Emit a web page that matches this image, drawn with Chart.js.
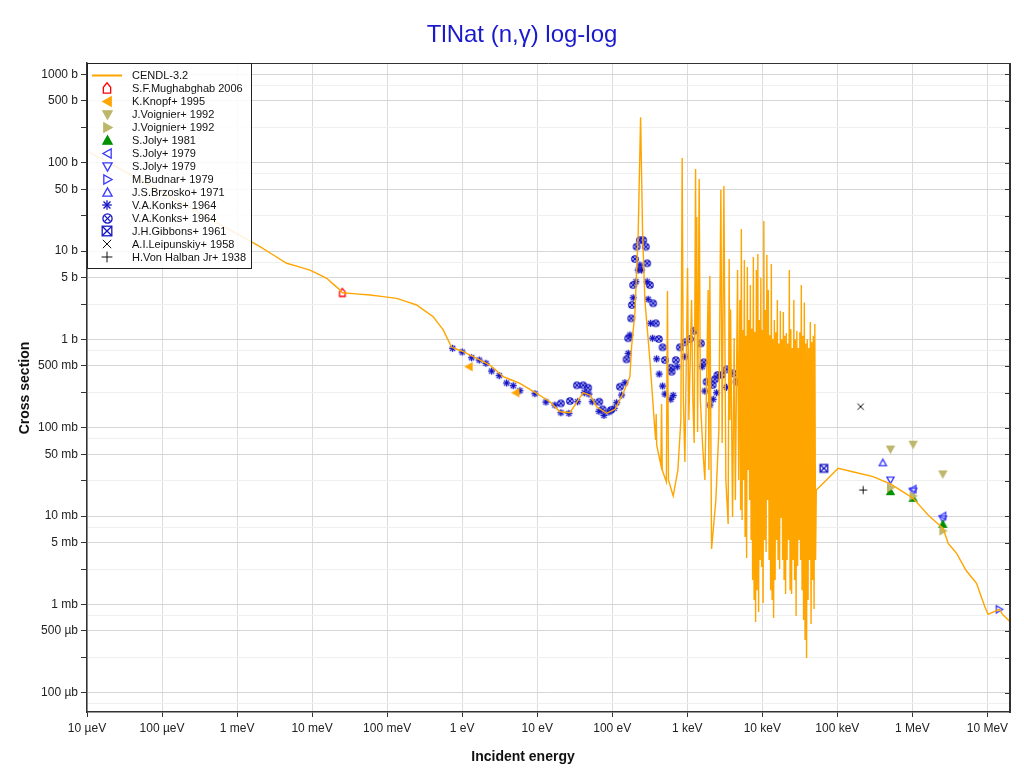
<!DOCTYPE html>
<html><head><meta charset="utf-8">
<script src="https://cdn.jsdelivr.net/npm/chart.js@4.4.1/dist/chart.umd.min.js"></script>
<style>html,body{margin:0;padding:0;background:#fff;}canvas{display:block;}</style>
</head><body>
<canvas id="c" width="1024" height="773"></canvas>
<script>
// ---------- DATA (energy in eV, cross section in barns) ----------
const cendlE = [
1e-5, 3.74e-5, 2.02e-3, 4.58e-3, 9.36e-3, 0.01563, 0.0235, 0.0252, 0.059, 0.1338, 0.247, 0.4115, 0.559, 0.7237, 1.033, 1.404, 2.343, 3.524, 5.883, 9.82,
14.76, 20.07, 27.28, 41.0, 50.4, 61.85, 84.1, 108.5, 139.9, 171.9, 181.1, 200.4, 221.7, 238.7, 253.8, 272.3, 317.4, 370.1, 379.2, 385.1,
391.1, 444.7, 454.4, 464.2, 526.6, 544.6, 561.6, 648.7, 749.5, 821.7, 855.1, 887.2, 929.0, 1009, 1050, 1141, 1187, 1236, 1290, 1314,
1338, 1372, 1441, 1494, 1614, 1716, 1898, 1940, 2000, 2108, 2404, 2636, 2803, 2917, 3073, 3268, 3507, 3615, 3694, 3774,
4013, 4216, 4373, 4679, 4839,
5021, 5138, 5257, 5380, 5505, 5634, 5765, 5899, 6036, 6177, 6321, 6468, 6618, 6772, 6930, 7091, 7256, 7425, 7598, 7775,
7956, 8141, 8330, 8524, 8722, 8925, 9133, 9345, 9563, 9785, 10015, 10248, 10486, 10730, 10980, 11235, 11497, 11764, 12038, 12318,
12604, 12898, 13198, 13505, 13819, 14140, 14469, 14806, 15150, 15503, 15863, 16232, 16610, 16996, 17392, 17796, 18210, 18634, 19067, 19511,
19965, 20429, 20904, 21390, 21888, 22397, 22918, 23451, 23997, 24555, 25126, 25711, 26309, 26921, 27547, 28188, 28844, 29515, 30201, 30904,
31623, 32358, 33111, 33881, 34669, 35476, 36301, 37145, 38009, 38893, 39798, 40724, 41671, 42640, 43632, 44647, 45686, 46748, 47836, 48948,
50087, 51252, 52444,
102470, 299900, 511000, 1.023e6, 1.621e6, 2.568e6, 2.995e6, 3.876e6, 5.155e6, 7.159e6, 9.23e6, 1.022e7, 1.432e7, 1.619e7, 2.0e7];
const cendlXS = [
135.5, 73.8, 11.2, 7.26, 6.09, 4.91, 3.62, 3.37, 3.18, 2.91, 2.45, 1.80, 1.28, 0.813, 0.725, 0.636, 0.5125, 0.378, 0.318, 0.245,
0.197, 0.1517, 0.1478, 0.249, 0.2344, 0.1728, 0.1455, 0.1615, 0.245, 0.378, 0.826, 1.97, 15.86, 326, 15.86, 2.79, 0.583, 0.0941, 0.0725, 0.1429,
0.0637, 0.0378, 0.1853, 0.0332, 0.0243, 3.53, 0.0256, 0.01686, 0.0332, 0.122, 112.9, 0.206, 0.0409, 6.42, 0.122, 2.79, 0.206, 0.0671, 84.8, 1.28,
24.3, 0.0894, 65.3, 0.206, 0.0559, 0.0256, 3.62, 0.0332, 5.21, 0.00424, 0.0152, 0.0941, 49.0, 0.0671, 54.4, 0.0256, 0.00813, 8.12, 0.122, 2.15,
0.00975, 1.036, 0.0152, 6.09, 0.0256,
2.79, 0.0117, 17.7, 0.0090, 1.28, 0.0256, 7.91, 0.00579, 1.1, 0.00335,
6.59, 0.0332, 1.66, 0.0152, 4.12, 0.00535, 1.3, 0.00189, 8.55, 0.00112,
1.2, 0.000632, 6.09, 0.00145, 9.25, 0.00082, 1.66, 0.00318, 4.95, 0.00265,
1.28, 0.00104, 21.8, 0.00535, 2.15, 0.00392, 9.01, 0.0152, 3.62, 0.00318,
1.1, 0.00145, 7.13, 0.00112, 1.0, 0.000701, 1.66, 0.00189, 1.2, 0.00535,
2.79, 0.00318, 0.9, 0.00252, 2.09, 0.0095, 1.0, 0.00318, 2.04, 0.00189,
1.1, 0.00131, 1.18, 0.00318, 0.9, 0.00535, 6.09, 0.00145, 1.3, 0.00131,
0.8, 0.00318, 2.79, 0.00189, 1.0, 0.000739, 1.24, 0.00272, 0.8, 0.00535,
1.2, 0.00318, 4.12, 0.00145, 1.1, 0.000666, 2.58, 0.000395, 0.9, 0.000247,
1.0, 0.00112, 0.8, 0.00318, 1.57, 0.000599, 0.933, 0.00189, 1.1, 0.000886,
1.49, 0.00318, 0.0197,
0.0347, 0.0279, 0.0231, 0.0159, 0.01027, 0.00726, 0.00491, 0.00379, 0.00245, 0.00173, 0.000941, 0.000772, 0.00088, 0.000758, 0.000637];

const mughE = [0.0253], mughXS = [3.4];
const knopfE = [1.24, 5.2], knopfXS = [0.49, 0.249];
const voigDownE = [5.11e5, 1.023e6, 2.545e6], voigDownXS = [0.0574, 0.065, 0.030];
const voigRightE = [5.11e5, 1.023e6, 2.545e6], voigRightXS = [0.021, 0.0169, 0.0068];
const joly81E = [5.11e5, 1.023e6, 2.545e6], joly81XS = [0.0189, 0.0159, 0.00805];
const joly79aE = [1.023e6, 2.545e6], joly79aXS = [0.0202, 0.0100];
const joly79bE = [5.11e5, 1.023e6, 2.545e6], joly79bXS = [0.0256, 0.0192, 0.0093];
const budnarE = [1.43e7], budnarXS = [0.00088];
const brzoskoE = [4.04e5], brzoskoXS = [0.040];
const konksAstE = [0.746, 1.00, 1.336, 1.687, 2.073, 2.469, 3.117, 3.911, 4.788, 5.883, 9.32, 13.06, 17.21, 20.69, 26.45, 34.53, 42.29, 48.86, 54.06, 66.4,
 77.4, 90.2, 106.1, 114.3, 133.2, 147.4, 163.2, 171.9, 190.1, 206.6, 221.7, 233.6, 246.0, 292.2, 301.3, 324.3, 344.7, 389.8, 422.2, 468.6,
 502.9, 604.5, 648.6, 733.4, 928.8, 1579, 1716, 2000, 2213, 2457, 3338, 6166, 7189, 15480];
const konksAstXS = [0.792, 0.719, 0.620, 0.583, 0.536, 0.438, 0.388, 0.321, 0.299, 0.262, 0.2425, 0.1953, 0.1806, 0.1478, 0.1455, 0.197, 0.249, 0.2406, 0.197, 0.1533,
 0.138, 0.1505, 0.1658, 0.1918, 0.2344, 0.323, 0.695, 1.12, 2.96, 4.49, 6.09, 6.94, 6.09, 4.49, 2.84, 1.52, 1.03, 0.602, 0.405, 0.2964,
 0.2406, 0.2097, 0.2326, 0.490, 0.636, 0.490, 0.260, 0.1806, 0.2097, 0.249, 0.2866, 0.1806, 0.122, 0.0676];
const konksCircE = [20.69, 27.28, 33.81, 41.0, 47.8, 67.0, 74.35, 95.9, 126.5, 155.3, 163.2, 179, 183, 190.1, 200.4, 211.1, 233.6, 258.4, 280.7, 292.2,
 317.4, 351.1, 381.5, 418.3, 468.6, 502.9, 604.5, 617.6, 704.7, 796.7, 928.8, 1083, 1236, 1518, 1664, 1808, 2173, 2332, 2533, 2864,
 3339, 4088, 4539, 6166, 7189, 15480];
const konksCircXS = [0.1888, 0.2005, 0.302, 0.302, 0.2836, 0.197, 0.1615, 0.1585, 0.291, 0.594, 1.03, 1.73, 2.45, 4.12, 8.12, 11.2, 13.3, 13.3, 11.2, 7.26,
 4.12, 2.56, 1.52, 1.01, 0.813, 0.583, 0.4775, 0.430, 0.583, 0.813, 0.926, 1.01, 1.253, 0.902, 0.550, 0.3315, 0.304, 0.353, 0.395, 0.395,
 0.458, 0.4127, 0.3315, 0.2344, 0.1658, 0.0877];
const gibbonsE = [6.609e4], gibbonsXS = [0.0347];
const leipE = [2.04e5], leipXS = [0.173];
const halbanE = [2.21e5], halbanXS = [0.0197];

const xTickValues = [1e-5, 1e-4, 1e-3, 1e-2, 1e-1, 1, 10, 100, 1e3, 1e4, 1e5, 1e6, 1e7];
const xTickLabels = ['10 µeV', '100 µeV', '1 meV', '10 meV', '100 meV', '1 eV', '10 eV', '100 eV', '1 keV', '10 keV', '100 keV', '1 MeV', '10 MeV'];
const yTickValues = [7.5e-5, 1e-4, 2.5e-4, 5e-4, 7.5e-4, 1e-3, 2.5e-3, 5e-3, 7.5e-3, 0.01, 0.025, 0.05, 0.075, 0.1, 0.25, 0.5, 0.75,
  1, 2.5, 5, 7.5, 10, 25, 50, 75, 100, 250, 500, 750, 1000];
const yTickLabels = ['', '100 µb', '', '500 µb', '', '1 mb', '', '5 mb', '', '10 mb', '', '50 mb', '', '100 mb', '', '500 mb', '',
  '1 b', '', '5 b', '', '10 b', '', '50 b', '', '100 b', '', '500 b', '', '1000 b'];

// ---------- rendering ----------
const FONT = "'Liberation Sans', Arial, sans-serif";
function mant(v){ return v / Math.pow(10, Math.floor(Math.log10(v) + 1e-9)); }
function near(a,b){ return Math.abs(a-b) < 1e-6; }

function makeMarker(kind, s, stroke, fill, lw){
  const n = Math.ceil(2*s + 2*lw + 3);
  const c = document.createElement('canvas'); c.width = n; c.height = n;
  const g = c.getContext('2d');
  g.translate(n/2, n/2);
  g.lineWidth = lw; g.strokeStyle = stroke; g.fillStyle = fill || 'rgba(0,0,0,0)';
  const poly = (p) => { g.beginPath(); p.forEach(([x,y],k)=> k ? g.lineTo(x*s,y*s) : g.moveTo(x*s,y*s)); g.closePath(); if (fill) g.fill(); g.stroke(); };
  const seg = (a,b,c2,d) => { g.beginPath(); g.moveTo(a*s,b*s); g.lineTo(c2*s,d*s); g.stroke(); };
  switch(kind){
    case 'house': poly([[-0.7,1],[0.7,1],[0.7,-0.15],[0,-1],[-0.7,-0.15]]); break;
    case 'triU': poly([[0,-1],[1,0.8],[-1,0.8]]); break;
    case 'triD': poly([[0,1],[1,-0.8],[-1,-0.8]]); break;
    case 'triL': poly([[-1,0],[0.8,-1],[0.8,1]]); break;
    case 'triR': poly([[1,0],[-0.8,-1],[-0.8,1]]); break;
    case 'star': seg(0,-1,0,1); seg(-1,0,1,0); seg(-0.72,-0.72,0.72,0.72); seg(-0.72,0.72,0.72,-0.72); break;
    case 'circX': g.beginPath(); g.arc(0,0,s,0,Math.PI*2); g.stroke(); seg(-0.62,-0.62,0.62,0.62); seg(-0.62,0.62,0.62,-0.62); break;
    case 'sqX': g.strokeRect(-s,-s,2*s,2*s); seg(-1,-1,1,1); seg(-1,1,1,-1); break;
    case 'x': seg(-1,-1,1,1); seg(-1,1,1,-1); break;
    case 'plus': seg(0,-1,0,1); seg(-1,0,1,0); break;
  }
  return c;
}
const SZ = { house:[4,5.2], triU:[3.6,4.6], triD:[3.6,4.6], triL:[3.6,4.6], triR:[3.6,4.6], star:[3.6,4.8], circX:[3.2,4.6], sqX:[3.8,4.8], x:[3.2,4.2], plus:[4,5.4] };

const seriesDefs = [
  {label:'CENDL-3.2', E:cendlE, S:cendlXS, line:true, color:'#FFA500'},
  {label:'S.F.Mughabghab 2006', E:mughE, S:mughXS, kind:'house', stroke:'#ff0000', fill:'#ffffff'},
  {label:'K.Knopf+ 1995', E:knopfE, S:knopfXS, kind:'triL', stroke:'#FFA500', fill:'#FFA500'},
  {label:'J.Voignier+ 1992', E:voigDownE, S:voigDownXS, kind:'triD', stroke:'#BDB76B', fill:'#BDB76B'},
  {label:'J.Voignier+ 1992', E:voigRightE, S:voigRightXS, kind:'triR', stroke:'#BDB76B', fill:'#BDB76B'},
  {label:'S.Joly+ 1981', E:joly81E, S:joly81XS, kind:'triU', stroke:'#009100', fill:'#009100'},
  {label:'S.Joly+ 1979', E:joly79aE, S:joly79aXS, kind:'triL', stroke:'#3838ff'},
  {label:'S.Joly+ 1979', E:joly79bE, S:joly79bXS, kind:'triD', stroke:'#3838ff'},
  {label:'M.Budnar+ 1979', E:budnarE, S:budnarXS, kind:'triR', stroke:'#3838ff'},
  {label:'J.S.Brzosko+ 1971', E:brzoskoE, S:brzoskoXS, kind:'triU', stroke:'#3838ff'},
  {label:'V.A.Konks+ 1964', E:konksAstE, S:konksAstXS, kind:'star', stroke:'#1616c4'},
  {label:'V.A.Konks+ 1964', E:konksCircE, S:konksCircXS, kind:'circX', stroke:'#1616c4'},
  {label:'J.H.Gibbons+ 1961', E:gibbonsE, S:gibbonsXS, kind:'sqX', stroke:'#1616c4'},
  {label:'A.I.Leipunskiy+ 1958', E:leipE, S:leipXS, kind:'x', stroke:'#111111'},
  {label:'H.Von Halban Jr+ 1938', E:halbanE, S:halbanXS, kind:'plus', stroke:'#111111'},
];
seriesDefs.forEach(d => {
  if (d.line) return;
  const lw = (d.kind==='x'||d.kind==='plus') ? 1 : 1.3;
  d.mk = makeMarker(d.kind, SZ[d.kind][0], d.stroke, d.fill, lw);
  d.mkL = makeMarker(d.kind, SZ[d.kind][1], d.stroke, d.fill, lw);
});

const datasets = seriesDefs.map(d => {
  const data = d.E.map((e,i)=>({x:e, y:d.S[i]}));
  if (d.line) return {label:d.label, data, showLine:true, borderColor:d.color, backgroundColor:d.color, borderWidth:1.4, pointRadius:0, pointHoverRadius:0, tension:0.0001, fill:false, borderJoinStyle:'miter'};
  return {label:d.label, data, showLine:false, pointStyle:d.mk, pointRadius:3, pointHoverRadius:3, borderColor:d.stroke, backgroundColor:d.fill||d.stroke};
});

const deco = {
  id:'deco',
  afterDatasetsDraw(chart){
    const {ctx, chartArea:a} = chart;
    const ys = chart.scales.y;
    ctx.save();
    ctx.strokeStyle = '#333'; ctx.lineWidth = 1;
    ctx.beginPath(); ctx.moveTo(a.left, a.top+0.5); ctx.lineTo(a.right, a.top+0.5); ctx.stroke();
    ctx.lineWidth = 2;
    ctx.beginPath(); ctx.moveTo(a.right, a.top); ctx.lineTo(a.right, a.bottom+1); ctx.stroke();
    ctx.lineWidth = 1;
    yTickValues.forEach(v => {
      if (near(mant(v), 7.5)) return;
      const py = Math.round(ys.getPixelForValue(v)) + 0.5;
      ctx.beginPath(); ctx.moveTo(a.right-5, py); ctx.lineTo(a.right, py); ctx.stroke();
    });
    // legend
    const lx = a.left, ly = a.top, lw = 164, lh = 205;
    ctx.fillStyle = 'rgba(255,255,255,0.86)';
    ctx.fillRect(lx, ly, lw, lh);
    ctx.strokeStyle = '#222'; ctx.lineWidth = 1;
    ctx.strokeRect(lx+0.5, ly+0.5, lw, lh);
    ctx.font = '11px ' + FONT; ctx.textBaseline = 'middle'; ctx.textAlign = 'left'; ctx.fillStyle = '#111';
    seriesDefs.forEach((d,i) => {
      const y = ly + 12 + 13.02*i;
      if (d.line) {
        ctx.strokeStyle = d.color; ctx.lineWidth = 2;
        ctx.beginPath(); ctx.moveTo(lx+5, Math.round(y)+0.5); ctx.lineTo(lx+35, Math.round(y)+0.5); ctx.stroke();
      } else {
        ctx.drawImage(d.mkL, Math.round(lx+20 - d.mkL.width/2), Math.round(y - d.mkL.height/2));
      }
      ctx.fillStyle = '#111';
      ctx.fillText(d.label, lx+45, y+0.5);
    });
    ctx.restore();
  },
  afterDraw(chart){
    const {ctx} = chart;
    ctx.save();
    ctx.fillStyle = '#1a1acc';
    ctx.font = '24px ' + FONT; ctx.textAlign = 'center'; ctx.textBaseline = 'alphabetic';
    ctx.fillText('TlNat (n,γ) log-log', 522, 42);
    ctx.fillStyle = '#111';
    ctx.font = 'bold 14px ' + FONT; ctx.textBaseline = 'middle';
    ctx.fillText('Incident energy', 523, 757);
    ctx.translate(25, 388); ctx.rotate(-Math.PI/2);
    ctx.fillText('Cross section', 0, 0);
    ctx.restore();
  }
};

new Chart(document.getElementById('c'), {
  type:'scatter',
  data:{datasets},
  options:{
    responsive:false, animation:false, devicePixelRatio:1,
    layout:{padding:{top:63, right:14, left:0, bottom:0}},
    plugins:{legend:{display:false}, tooltip:{enabled:false}, title:{display:false}},
    events:[],
    scales:{
      x:{type:'logarithmic', min:1e-5, max:2e7, position:'bottom',
        afterBuildTicks:s => { s.ticks = xTickValues.map(v=>({value:v})); },
        afterFit:s => { s.height = 61; },
        ticks:{autoSkip:false, maxRotation:0, minRotation:0, color:'#222', font:{family:FONT, size:12}, padding:4,
          callback:(v,i)=> xTickLabels[i]},
        grid:{color:'#dcdcdc', lineWidth:1, tickLength:5, tickColor:'#333'},
        border:{color:'#333', width:1.5},
        title:{display:false}},
      y:{type:'logarithmic', min:6.054e-5, max:1343, position:'left',
        afterBuildTicks:s => { s.ticks = yTickValues.map(v=>({value:v})); },
        afterFit:s => { s.width = 87; },
        ticks:{autoSkip:false, color:'#222', font:{family:FONT, size:12}, padding:3,
          callback:(v,i)=> yTickLabels[i]},
        grid:{lineWidth:1, tickLength:6,
          color:c => { const v = c.tick ? c.tick.value : 1; const m = mant(v); return (near(m,1)||near(m,5)) ? '#d6d6d6' : '#efefef'; },
          tickColor:c => { const v = c.tick ? c.tick.value : 1; return near(mant(v),7.5) ? 'rgba(0,0,0,0)' : '#333'; }},
        border:{color:'#333', width:1.5},
        title:{display:false}}
    }
  },
  plugins:[deco]
});
</script>
</body></html>
